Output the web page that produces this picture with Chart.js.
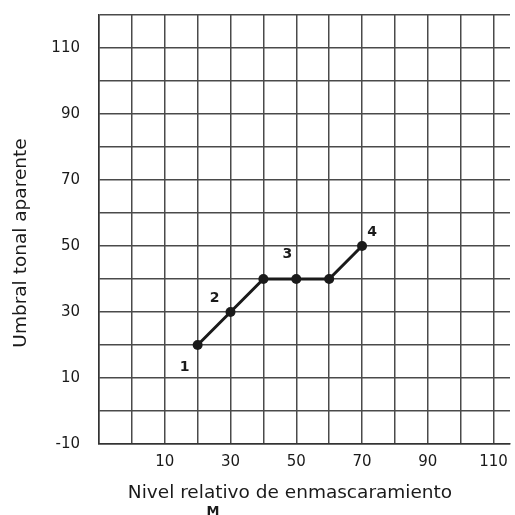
<!DOCTYPE html>
<html>
<head>
<meta charset="utf-8">
<script src="https://cdn.jsdelivr.net/npm/chart.js@4/dist/chart.umd.min.js"></script>
<style>
  html, body { margin: 0; padding: 0; background: #fff; overflow: hidden; }
  #wrap { width: 515px; height: 515px; }
  canvas { display: block; }
</style>
</head>
<body>
<div id="wrap"><canvas id="myChart" width="515" height="515"></canvas></div>
<script>
// masking level (x) and apparent tone threshold (y)
const maskLevels = [20, 30, 40, 50, 60, 70];
const thresholds = [20, 30, 40, 40, 40, 50];
const pointNames = ["1", "2", "", "3", "", "4"];
const xTickLabels = [10, 30, 50, 70, 90, 110];
const yTickLabels = [-10, 10, 30, 50, 70, 90, 110];
const xTitle = "Nivel relativo de enmascaramiento";
const yTitle = "Umbral tonal aparente";

const font = "'DejaVu Sans', 'Noto Sans', sans-serif";
const ink = "#1a1a1a";

// offsets of the little numbers next to each point
const nameOffsets = [[-13, 22], [-16, -14], [0, 0], [-9, -25], [0, 0], [10, -14]];

const labelsPlugin = {
  id: "pointNames",
  afterDraw(chart) {
    const ctx = chart.ctx;
    const meta = chart.getDatasetMeta(0);
    ctx.save();
    ctx.fillStyle = ink;
    ctx.font = "bold 14px " + font;
    ctx.textAlign = "center";
    ctx.textBaseline = "middle";
    meta.data.forEach((pt, i) => {
      if (!pointNames[i]) return;
      ctx.fillText(pointNames[i], pt.x + nameOffsets[i][0], pt.y + nameOffsets[i][1]);
    });
    // axis titles
    ctx.font = "18.5px " + font;
    ctx.fillText(xTitle, 290, 493);
    ctx.save();
    ctx.translate(21, 243);
    ctx.rotate(-Math.PI / 2);
    ctx.fillText(yTitle, 0, 0);
    ctx.restore();
    // the cut "M" under the axis title
    ctx.font = "bold 13px " + font;
    ctx.fillText("M", 213, 512);
    ctx.restore();
  },
};

const chartElement = document.getElementById("myChart");
const myChart = new Chart(chartElement, {
  type: "line",
  data: {
    datasets: [
      {
        data: maskLevels.map((x, i) => ({ x: x, y: thresholds[i] })),
        borderColor: ink,
        backgroundColor: ink,
        borderWidth: 3,
        pointRadius: 5,
        pointBackgroundColor: ink,
        pointBorderWidth: 0,
        tension: 0,
      },
    ],
  },
  options: {
    responsive: false,
    animation: false,
    events: [],
    layout: { padding: { top: 15, right: -6, left: 0, bottom: 0 } },
    plugins: { legend: { display: false }, tooltip: { enabled: false } },
    scales: {
      x: {
        type: "linear",
        min: -10,
        max: 115,
        afterFit: (scale) => {
          scale.height = 71;
          scale.paddingLeft = 0;
          scale.paddingRight = 0;
        },
        ticks: {
          stepSize: 10,
          includeBounds: false,
          autoSkip: false,
          maxRotation: 0,
          padding: 9,
          color: ink,
          font: { family: font, size: 15 },
          callback: (v) => (xTickLabels.includes(v) ? String(v) : ""),
        },
        grid: { color: "#4a4a4a", lineWidth: 1.5, drawTicks: false },
        border: { color: "#333", width: 1.5 },
      },
      y: {
        type: "linear",
        min: -10,
        max: 120,
        afterFit: (scale) => {
          scale.width = 99;
          scale.paddingTop = 0;
          scale.paddingBottom = 0;
        },
        ticks: {
          stepSize: 10,
          autoSkip: false,
          padding: 19,
          color: ink,
          font: { family: font, size: 15 },
          callback: (v) => (yTickLabels.includes(v) ? String(v) : ""),
        },
        grid: { color: "#4a4a4a", lineWidth: 1.5, drawTicks: false },
        border: { color: "#333", width: 1.5 },
      },
    },
  },
  plugins: [labelsPlugin],
});
</script>
</body>
</html>
